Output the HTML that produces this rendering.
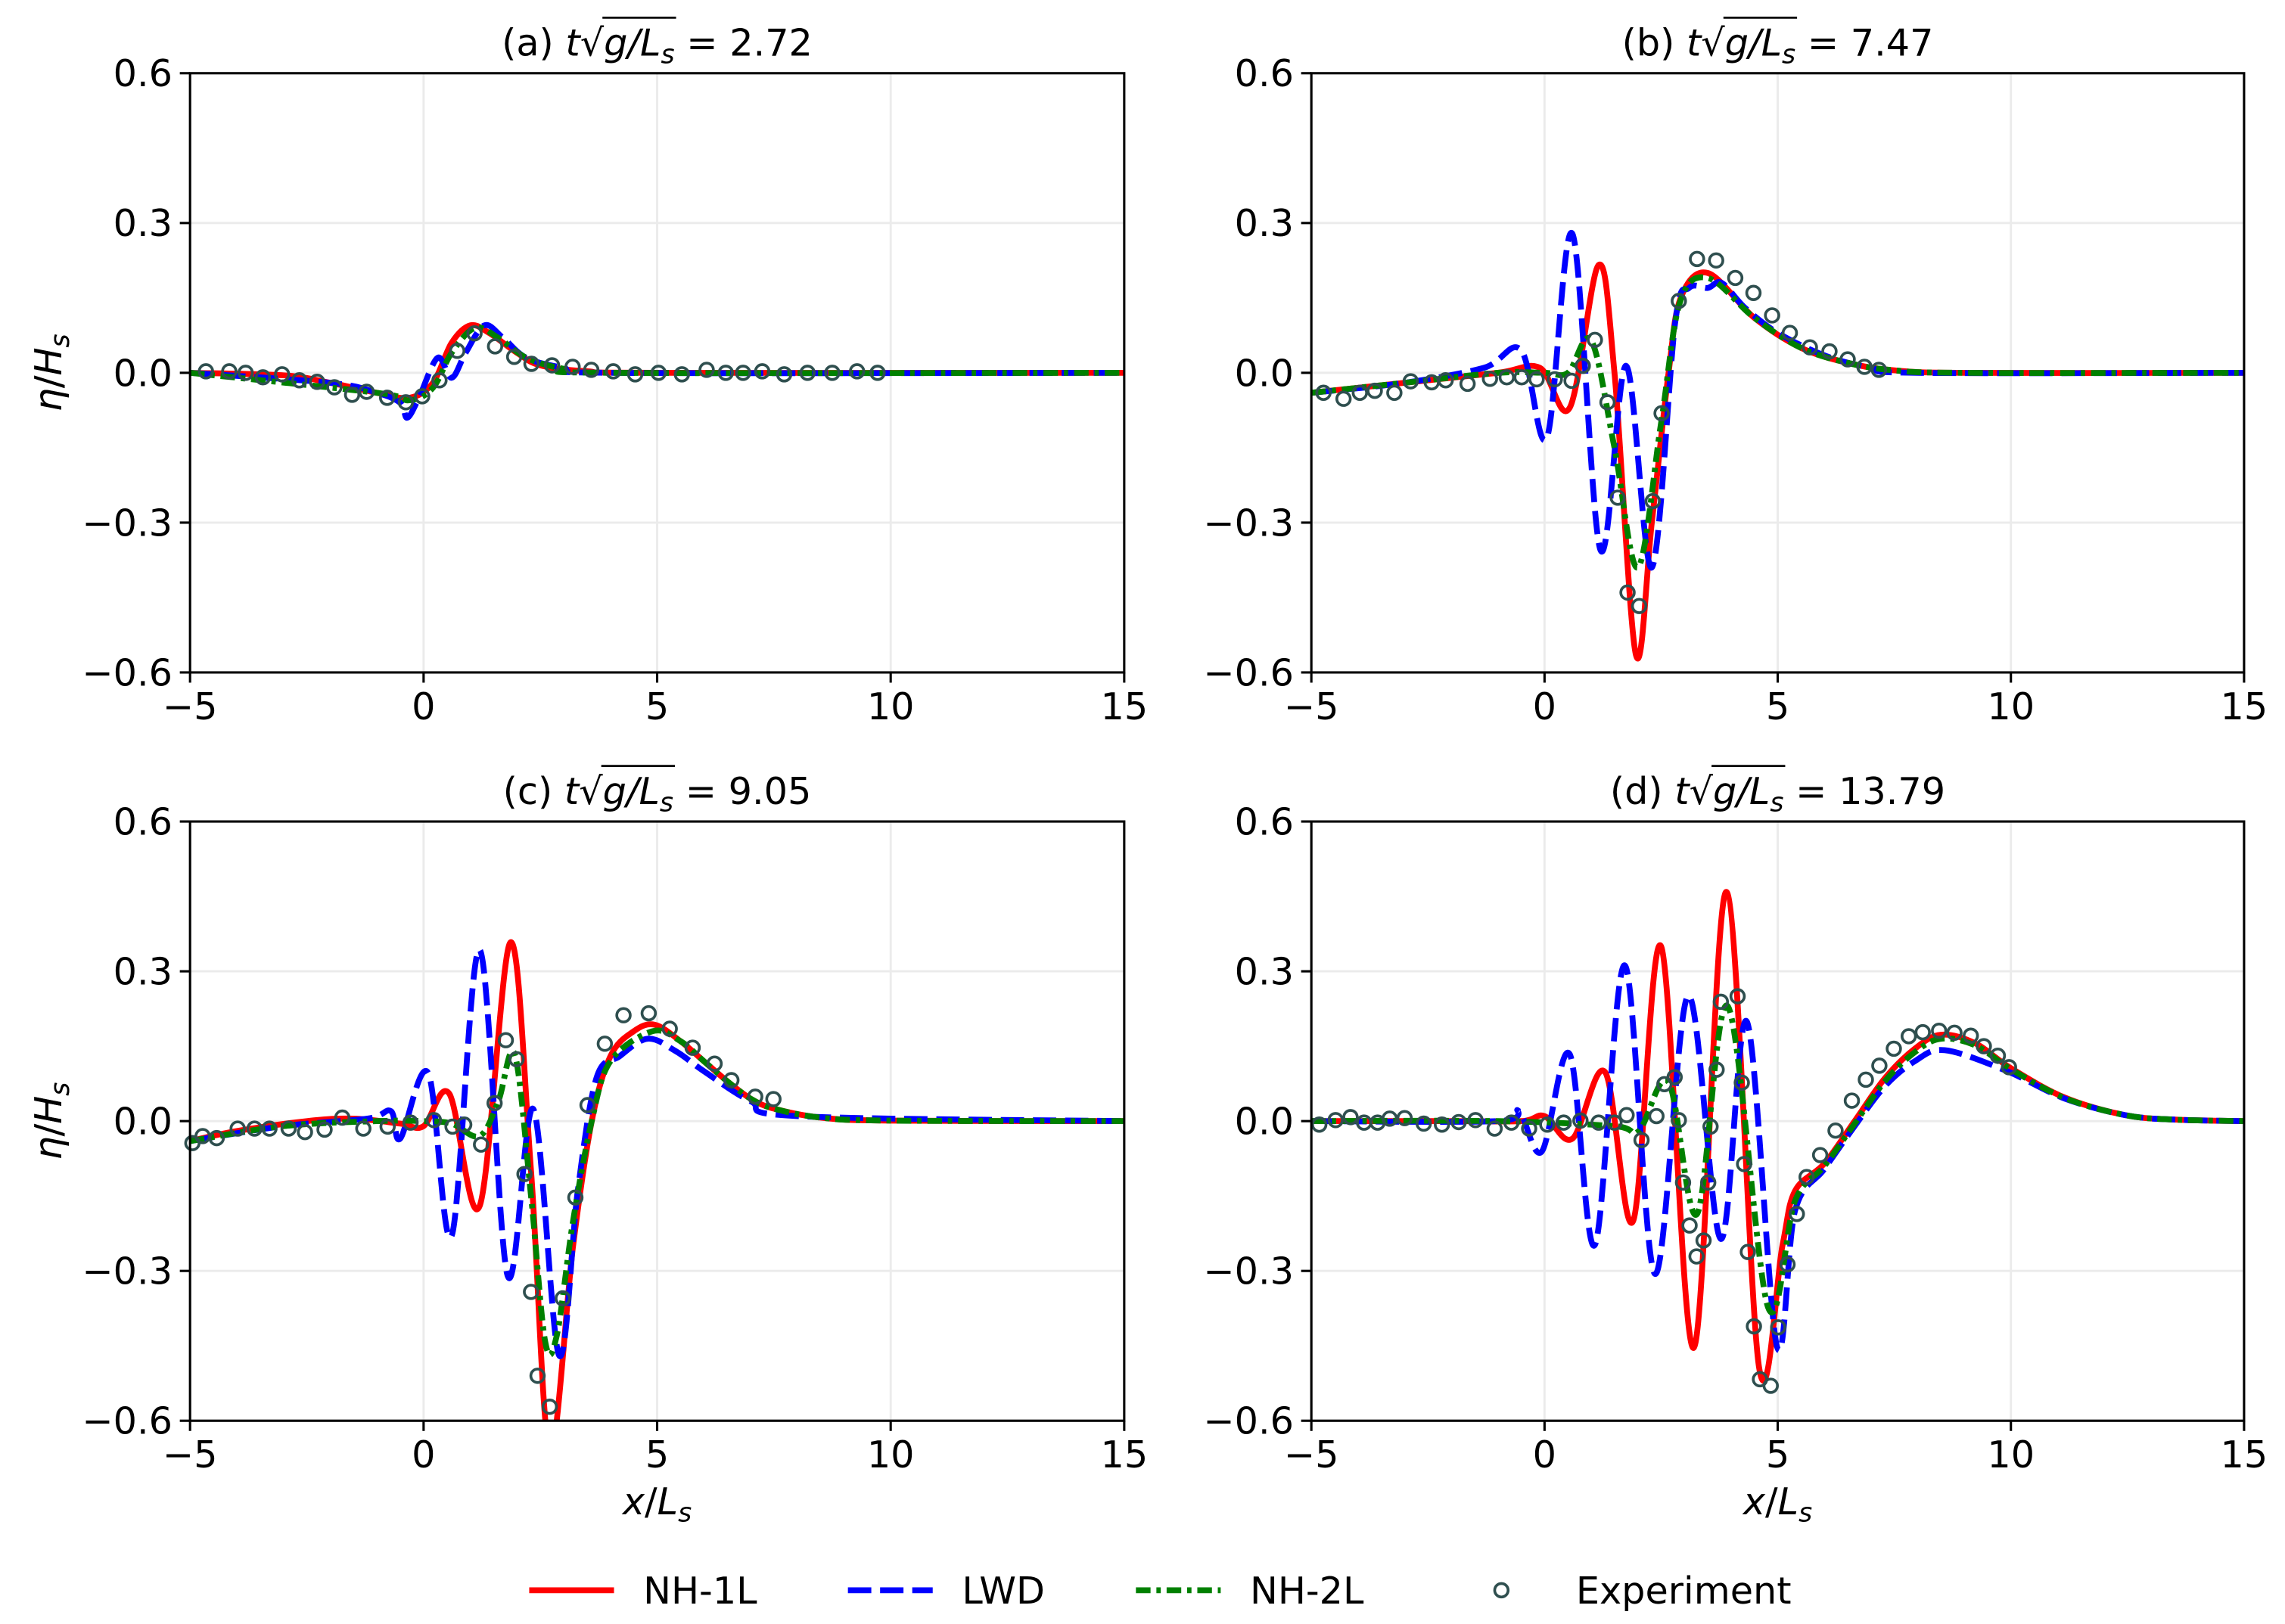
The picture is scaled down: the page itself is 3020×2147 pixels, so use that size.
<!DOCTYPE html>
<html><head><meta charset="utf-8"><style>
html,body{margin:0;padding:0;background:#fff}
svg{display:block}
text{font-family:"DejaVu Sans","Liberation Sans",sans-serif;fill:#000}
</style></head><body>
<svg id="fig" width="3020" height="2147" viewBox="0 0 1563 1111" xmlns="http://www.w3.org/2000/svg"></svg>
<script>
// ---- data ----
const xTicks=[-5,0,5,10,15];
const yTicks=[-0.6,-0.3,0.0,0.3,0.6];
const yTickLabels=["\u22120.6","\u22120.3","0.0","0.3","0.6"];
const panelLetters=["a","b","c","d"];
const panelTimes=["2.72","7.47","9.05","13.79"];

const a_nh1_x=[-5,-3,-2,-1,-0.3,0.2,0.6,1.0,1.4,2,2.5,3.5,5,15];
const a_nh1_y=[0,-0.005,-0.02,-0.04,-0.05,-0.02,0.06,0.095,0.08,0.04,0.015,0.003,0,0];
const a_lwd_x=[-5,-2,-1,-0.5,-0.35,-0.1,0.3,0.6,0.9,1.3,1.7,2.2,3,4,15];
const a_lwd_y=[0,-0.02,-0.04,-0.06,-0.09,-0.05,0.03,-0.01,0.04,0.095,0.07,0.03,0.01,0,0];
const a_nh2_x=[-5,-1,-0.3,0.2,0.6,1.1,1.6,2.2,3,4,15];
const a_nh2_y=[0,-0.04,-0.055,-0.03,0.04,0.09,0.07,0.03,0.008,0,0];
const a_exp_x=[-4.66,-4.16,-3.81,-3.44,-3.03,-2.66,-2.28,-1.91,-1.53,-1.22,-0.78,-0.38,-0.03,0.34,0.72,1.09,1.53,1.94,2.31,2.75,3.19,3.59,4.06,4.53,5.03,5.53,6.06,6.47,6.84,7.25,7.72,8.22,8.75,9.28,9.72];
const a_exp_y=[0.003,0.003,0,-0.009,-0.003,-0.015,-0.018,-0.029,-0.044,-0.038,-0.05,-0.059,-0.047,-0.015,0.044,0.079,0.053,0.032,0.018,0.015,0.012,0.006,0.003,-0.003,0,-0.003,0.006,0,0,0.003,-0.003,0,0,0.003,0];

const b_nh1_x=[-5,-3,-1,-0.1,0.54,1.16,1.5,1.96,2.3,2.66,2.92,3.5,4.5,5.5,6.5,7.5,9,15];
const b_nh1_y=[-0.04,-0.02,0,0.01,-0.07,0.216,0,-0.565,-0.3,0,0.15,0.2,0.11,0.05,0.02,0.005,0,0];
const b_lwd_x=[-5,-3,-1.3,-0.5,0.05,0.6,1.2,1.75,2.3,2.8,3.1,3.5,3.8,4.3,5,6,7,8,15];
const b_lwd_y=[-0.04,-0.02,0.01,0.045,-0.13,0.278,-0.355,0.014,-0.39,0.1,0.17,0.17,0.18,0.13,0.08,0.035,0.01,0,0];
const b_nh2_x=[-5,-3,-1,0,0.5,1.0,1.5,2.0,2.5,2.9,3.5,4.5,5.5,6.5,7.5,9,15];
const b_nh2_y=[-0.04,-0.02,0,0,0,0.065,-0.15,-0.39,-0.1,0.14,0.19,0.11,0.05,0.02,0.005,0,0];
const b_exp_x=[-4.74,-4.31,-3.96,-3.64,-3.22,-2.87,-2.42,-2.12,-1.65,-1.17,-0.81,-0.49,-0.17,0.22,0.58,0.82,1.08,1.35,1.57,1.78,2.03,2.32,2.51,2.88,3.27,3.68,4.09,4.48,4.88,5.26,5.69,6.11,6.5,6.86,7.17];
const b_exp_y=[-0.04,-0.052,-0.04,-0.036,-0.04,-0.017,-0.019,-0.015,-0.022,-0.012,-0.009,-0.009,-0.013,-0.013,-0.016,0.014,0.066,-0.059,-0.25,-0.44,-0.467,-0.257,-0.081,0.144,0.228,0.225,0.19,0.16,0.115,0.08,0.051,0.043,0.027,0.012,0.006];

const c_nh1_x=[-5,-4,-2.5,-1.5,-0.5,0,0.55,1.2,1.86,2.3,2.7,3.2,3.6,4.0,4.5,4.95,5.5,6.0,6.5,7.0,7.5,8.5,10,15];
const c_nh1_y=[-0.04,-0.02,0,0.005,-0.005,-0.01,0.055,-0.17,0.358,-0.1,-0.66,-0.25,0,0.13,0.18,0.193,0.16,0.12,0.08,0.045,0.025,0.007,0.001,0];
const c_lwd_x=[-5,-3,-1.2,-0.7,-0.5,0.1,0.6,1.2,1.8,2.35,2.9,3.3,3.7,4.2,4.8,5.4,6,7,8,15];
const c_lwd_y=[-0.04,-0.01,0.005,0.02,-0.035,0.096,-0.23,0.343,-0.31,0.024,-0.469,-0.14,0.086,0.13,0.165,0.14,0.1,0.04,0.01,0];
const c_nh2_x=[-5,-3,-1,0,0.6,1.2,1.6,1.95,2.3,2.6,2.85,3.2,3.6,4.0,4.9,5.5,6.0,6.5,7.0,7.5,8.5,10,15];
const c_nh2_y=[-0.04,-0.01,0,0,-0.005,-0.03,0.04,0.134,-0.15,-0.44,-0.43,-0.2,0,0.12,0.18,0.16,0.12,0.08,0.045,0.025,0.007,0.001,0];
const c_exp_x=[-4.95,-4.73,-4.43,-3.98,-3.62,-3.3,-2.89,-2.54,-2.12,-1.74,-1.29,-0.77,-0.28,0.22,0.62,0.87,1.23,1.52,1.76,1.99,2.16,2.3,2.44,2.7,2.98,3.25,3.51,3.88,4.28,4.82,5.27,5.76,6.23,6.59,7.1,7.49];
const c_exp_y=[-0.044,-0.03,-0.034,-0.015,-0.015,-0.015,-0.015,-0.022,-0.017,0.007,-0.015,-0.011,-0.003,0.002,-0.011,-0.007,-0.047,0.036,0.162,0.124,-0.106,-0.342,-0.51,-0.572,-0.355,-0.153,0.032,0.155,0.212,0.216,0.185,0.147,0.115,0.082,0.049,0.044];

const d_nh1_x=[-5,-2,-0.5,0,0.6,1.3,1.9,2.5,3.2,3.9,4.6,5.1,5.37,6.0,6.65,7.3,7.94,8.5,9.23,10.0,11.16,12.45,13.5,15];
const d_nh1_y=[0,0,0,0.01,-0.035,0.098,-0.2,0.35,-0.454,0.459,-0.493,-0.25,-0.14,-0.085,0,0.086,0.145,0.173,0.156,0.106,0.047,0.012,0.003,0];
const d_lwd_x=[-5,-1,-0.55,-0.06,0.54,1.08,1.72,2.37,3.08,3.78,4.34,4.98,5.37,6.0,6.65,7.3,7.94,8.58,9.87,11.16,12.45,13.5,15];
const d_lwd_y=[0,0,0.02,-0.061,0.134,-0.248,0.312,-0.306,0.251,-0.236,0.199,-0.45,-0.18,-0.096,-0.01,0.07,0.12,0.142,0.102,0.045,0.012,0.003,0];
const d_nh2_x=[-5,-1,1.5,2.02,2.66,3.27,3.93,4.79,5.37,6.0,6.65,7.3,7.94,8.5,9.23,10.0,11.16,12.45,13.5,15];
const d_nh2_y=[0,0,-0.01,-0.02,0.078,-0.186,0.23,-0.372,-0.16,-0.09,-0.005,0.08,0.138,0.165,0.152,0.104,0.046,0.012,0.003,0];
const d_exp_x=[-4.83,-4.48,-4.16,-3.87,-3.58,-3.32,-3.0,-2.59,-2.2,-1.84,-1.48,-1.07,-0.71,-0.33,0.06,0.41,0.77,1.16,1.5,1.76,2.08,2.4,2.57,2.79,2.88,2.97,3.11,3.26,3.41,3.51,3.56,3.69,3.78,4.14,4.23,4.28,4.36,4.49,4.62,4.85,5.01,5.21,5.41,5.62,5.91,6.24,6.59,6.89,7.18,7.49,7.81,8.11,8.46,8.79,9.14,9.42,9.72,9.96];
const d_exp_y=[-0.007,0.002,0.008,-0.003,-0.003,0.005,0.006,-0.005,-0.007,-0.002,0.002,-0.015,-0.003,-0.015,-0.007,-0.003,0.001,-0.003,-0.003,0.012,-0.038,0.01,0.074,0.088,0.002,-0.123,-0.209,-0.271,-0.239,-0.123,-0.011,0.103,0.239,0.25,0.077,-0.086,-0.262,-0.411,-0.517,-0.53,-0.413,-0.287,-0.186,-0.112,-0.068,-0.019,0.041,0.083,0.111,0.145,0.17,0.178,0.181,0.177,0.171,0.15,0.131,0.108];

const panelData=[
 {nh1:[a_nh1_x,a_nh1_y],lwd:[a_lwd_x,a_lwd_y],nh2:[a_nh2_x,a_nh2_y],exp:[a_exp_x,a_exp_y]},
 {nh1:[b_nh1_x,b_nh1_y],lwd:[b_lwd_x,b_lwd_y],nh2:[b_nh2_x,b_nh2_y],exp:[b_exp_x,b_exp_y]},
 {nh1:[c_nh1_x,c_nh1_y],lwd:[c_lwd_x,c_lwd_y],nh2:[c_nh2_x,c_nh2_y],exp:[c_exp_x,c_exp_y]},
 {nh1:[d_nh1_x,d_nh1_y],lwd:[d_lwd_x,d_lwd_y],nh2:[d_nh2_x,d_nh2_y],exp:[d_exp_x,d_exp_y]}
];

// ---- drawing ----
const NS="http://www.w3.org/2000/svg";
const svg=document.getElementById('fig');
function el(tag,attrs,parent){const e=document.createElementNS(NS,tag);for(const k in attrs)e.setAttribute(k,attrs[k]);(parent||svg).appendChild(e);return e;}
const panels=[{x0:130,x1:769,y0:50,y1:460},{x0:897,x1:1535,y0:50,y1:460},{x0:130,x1:769,y0:562,y1:972},{x0:897,x1:1535,y0:562,y1:972}];
const FS=25.5;
const LW=4;

function smoothPath(pts){
  let d="M"+pts[0][0].toFixed(2)+","+pts[0][1].toFixed(2);
  for(let i=0;i<pts.length-1;i++){
    const p0=pts[i-1]||pts[i],p1=pts[i],p2=pts[i+1],p3=pts[i+2]||p2;
    const c1=[p1[0]+(p2[0]-p0[0])/6,p1[1]+(p2[1]-p0[1])/6];
    const c2=[p2[0]-(p3[0]-p1[0])/6,p2[1]-(p3[1]-p1[1])/6];
    d+=" C"+c1[0].toFixed(2)+","+c1[1].toFixed(2)+" "+c2[0].toFixed(2)+","+c2[1].toFixed(2)+" "+p2[0].toFixed(2)+","+p2[1].toFixed(2);
  }
  return d;
}

panels.forEach((P,pi)=>{
  const sx=v=>P.x0+(v+5)/20*(P.x1-P.x0);
  const sy=v=>P.y1-(v+0.6)/1.2*(P.y1-P.y0);
  const g=el('g',{});
  
  
  const cid='clip'+pi;
  const cp=el('clipPath',{id:cid},g);el('rect',{x:P.x0,y:P.y0,width:P.x1-P.x0,height:P.y1-P.y0},cp);
  xTicks.forEach(t=>{const l=el('line',{x1:sx(t),x2:sx(t),y1:P.y0,y2:P.y1,stroke:'#ebebeb','stroke-width':1.5},g);});
  yTicks.forEach(t=>{const l=el('line',{x1:P.x0,x2:P.x1,y1:sy(t),y2:sy(t),stroke:'#ebebeb','stroke-width':1.5},g);});
  const D=panelData[pi];
  const series=[
    ['nh1',{stroke:'#ff0000','stroke-width':LW,fill:'none'},'nh-1l-line'],
    ['lwd',{stroke:'#0000ff','stroke-width':LW,fill:'none','stroke-dasharray':'16,6'},'lwd-line'],
    ['nh2',{stroke:'#008000','stroke-width':LW,fill:'none','stroke-dasharray':'10,4,3,4'},'nh-2l-line']
  ];
  series.forEach(s=>{
    const xs=D[s[0]][0],ys=D[s[0]][1];
    const pts=xs.map((x,i)=>[sx(x),sy(ys[i])]);
    const p=el('path',Object.assign({d:smoothPath(pts),'clip-path':'url(#'+cid+')'},s[1]),g);
    
    
  });
  const ex=D.exp[0],ey=D.exp[1];
  ex.forEach((x,i)=>{
    const c=el('circle',{cx:sx(x),cy:sy(ey[i]),r:4.6,fill:'none',stroke:'#2f4f4f','stroke-width':1.9},g);
    
    
  });
  const fr=el('rect',{x:P.x0,y:P.y0,width:P.x1-P.x0,height:P.y1-P.y0,fill:'none',stroke:'#000','stroke-width':1.6},g);
  
  
  xTicks.forEach(t=>{
    el('line',{x1:sx(t),x2:sx(t),y1:P.y1,y2:P.y1+7,stroke:'#000','stroke-width':1.6},g);
    const tx=el('text',{x:sx(t),y:P.y1+32,'text-anchor':'middle','font-size':FS},g);
    tx.textContent=t<0?"\u2212"+Math.abs(t):String(t);
    
    
  });
  yTicks.forEach((t,i)=>{
    el('line',{x1:P.x0-7,x2:P.x0,y1:sy(t),y2:sy(t),stroke:'#000','stroke-width':1.6},g);
    const tx=el('text',{x:P.x0-12,y:sy(t)+9,'text-anchor':'end','font-size':FS},g);
    tx.textContent=yTickLabels[i];
    
    
  });
  // title
  const cx=(P.x0+P.x1)/2;
  const tt=el('text',{x:cx,y:P.y0-12,'text-anchor':'middle','font-size':FS},g);
  
  
  const parts=[["("+panelLetters[pi]+") ",null],["t","italic"],["\u221A",null],["g/L","italic"],["s","sub"],[" = "+panelTimes[pi],null]];
  parts.forEach(p=>{
    const ts=el('tspan',{},tt);
    if(p[1]==='italic')ts.setAttribute('font-style','italic');
    if(p[1]==='sub'){ts.setAttribute('font-style','italic');ts.setAttribute('font-size',18);ts.setAttribute('dy',5);}
    if(p[0].startsWith(" ="))ts.setAttribute('dy',-5);
    ts.textContent=p[0];
  });
  try{
    const full=parts.map(p=>p[0]).join('');
    const si=full.indexOf("\u221A");
    const s=tt.getEndPositionOfChar(si).x;
    const e=tt.getEndPositionOfChar(si+4).x;
    el('line',{x1:s-1,x2:e+1,y1:P.y0-38,y2:P.y0-38,stroke:'#000','stroke-width':1.4},g);
  }catch(err){}
  // y label
  const yl=el('text',{x:0,y:0,'text-anchor':'middle','font-size':FS,transform:'translate(42,'+((P.y0+P.y1)/2)+') rotate(-90)'},g);
  
  
  yl.innerHTML='<tspan font-style="italic">\u03B7</tspan>/<tspan font-style="italic">H</tspan><tspan font-style="italic" font-size="18" dy="5">s</tspan>';
  if(pi>=2){
    const xl=el('text',{x:cx,y:P.y1+64,'text-anchor':'middle','font-size':FS},g);
    
    
    xl.innerHTML='<tspan font-style="italic">x</tspan>/<tspan font-style="italic">L</tspan><tspan font-style="italic" font-size="18" dy="5">s</tspan>';
  }
});

// legend
const lg=el('g',{});


const LY=1088;
const legendItems=[
 {x:362,name:'NH-1L',attrs:{stroke:'#ff0000','stroke-width':LW}},
 {x:580,name:'LWD',attrs:{stroke:'#0000ff','stroke-width':LW,'stroke-dasharray':'16,6'}},
 {x:777,name:'NH-2L',attrs:{stroke:'#008000','stroke-width':LW,'stroke-dasharray':'10,4,3,4'}}
];
legendItems.forEach(it=>{
  const g=el('g',{},lg);
  
  
  el('line',Object.assign({x1:it.x,x2:it.x+58,y1:LY,y2:LY},it.attrs),g);
  const t=el('text',{x:it.x+78,y:LY+9,'font-size':FS},g);t.textContent=it.name;
});
const eg=el('g',{},lg);


el('circle',{cx:1027,cy:LY,r:4.6,fill:'none',stroke:'#2f4f4f','stroke-width':1.9},eg);
const et=el('text',{x:1078,y:LY+9,'font-size':FS},eg);et.textContent='Experiment';
</script>
</body></html>
